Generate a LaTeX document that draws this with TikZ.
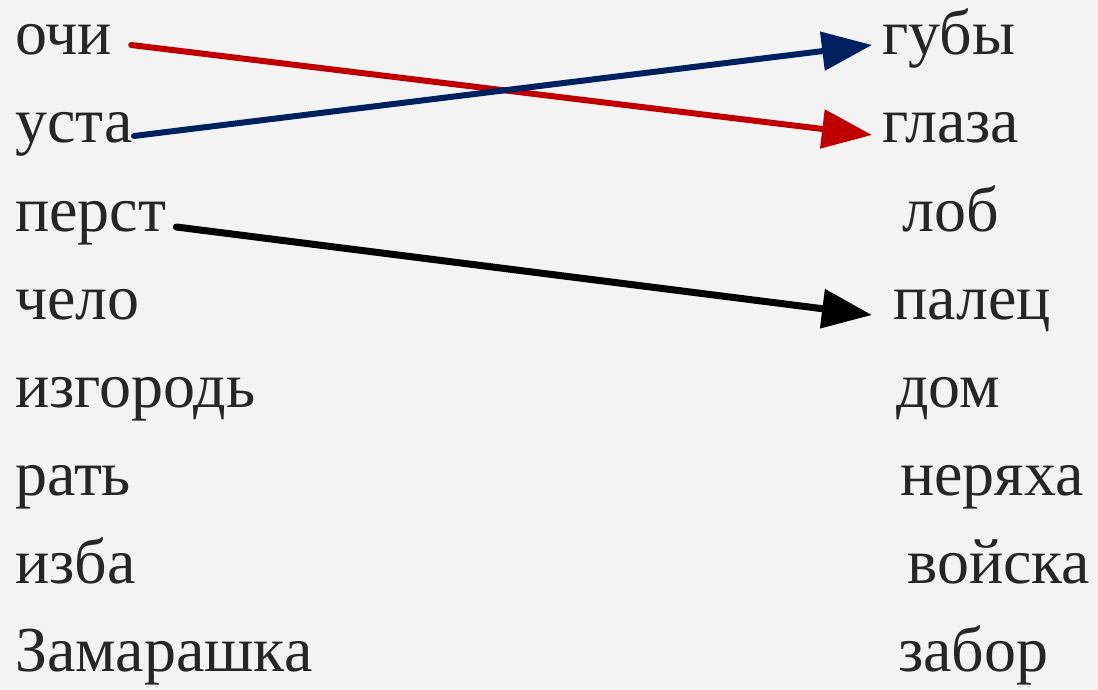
\documentclass[tikz,border=0pt]{standalone}
\usepackage{fontspec}
\setmainfont{Liberation Serif}
\usetikzlibrary{positioning,arrows.meta}

\definecolor{paper}{RGB}{243,243,243}
\definecolor{ink}{RGB}{38,38,38}
\definecolor{linkred}{RGB}{192,0,0}
\definecolor{linkblue}{RGB}{0,32,96}

\begin{document}
\begin{tikzpicture}[
    x=1pt, y=-1pt,
    word/.style={text=ink, font=\rmfamily\fontsize{64}{70}\selectfont, inner sep=0pt, anchor=base west},
    link/.style={-{Triangle[length=50pt, width=38pt]}, line width=6pt, line cap=round},
    thicklink/.style={link, line width=7pt}
]

% Background
\fill[paper] (0,0) rectangle (1098,690);

% Old words
\node[word] (ochi) at (15,55) {очи};
\node[word] (usta) at (15,143) {уста};
\node[word] (perst) at (15,231) {перст};
\node[word] (chelo) at (15,319) {чело};
\node[word] (izgorod) at (15,407) {изгородь};
\node[word] (rat) at (15,495) {рать};
\node[word] (izba) at (15,583) {изба};
\node[word] (zamarashka) at (15,671) {Замарашка};

% Modern words
\node[word] (guby) at (882,55) {губы};
\node[word] (glaza) at (882,143) {глаза};
\node[word] (lob) at (902,231) {лоб};
\node[word] (palets) at (893,319) {палец};
\node[word] (dom) at (896,407) {дом};
\node[word] (neryakha) at (900,495) {неряха};
\node[word] (voyska) at (907,583) {войска};
\node[word] (zabor) at (898,671) {забор};

% Matches
\draw[link, linkred] ([xshift=19pt, yshift=10pt]ochi.base east) -- ([xshift=-10pt, yshift=8pt]glaza.base west);
\draw[link, linkblue] ([xshift=1pt, yshift=7pt]usta.base east) -- ([xshift=-10pt, yshift=10pt]guby.base west);
\draw[thicklink, black] ([xshift=10pt, yshift=4pt]perst.base east) -- ([xshift=-21pt, yshift=4pt]palets.base west);

\end{tikzpicture}
\end{document}
